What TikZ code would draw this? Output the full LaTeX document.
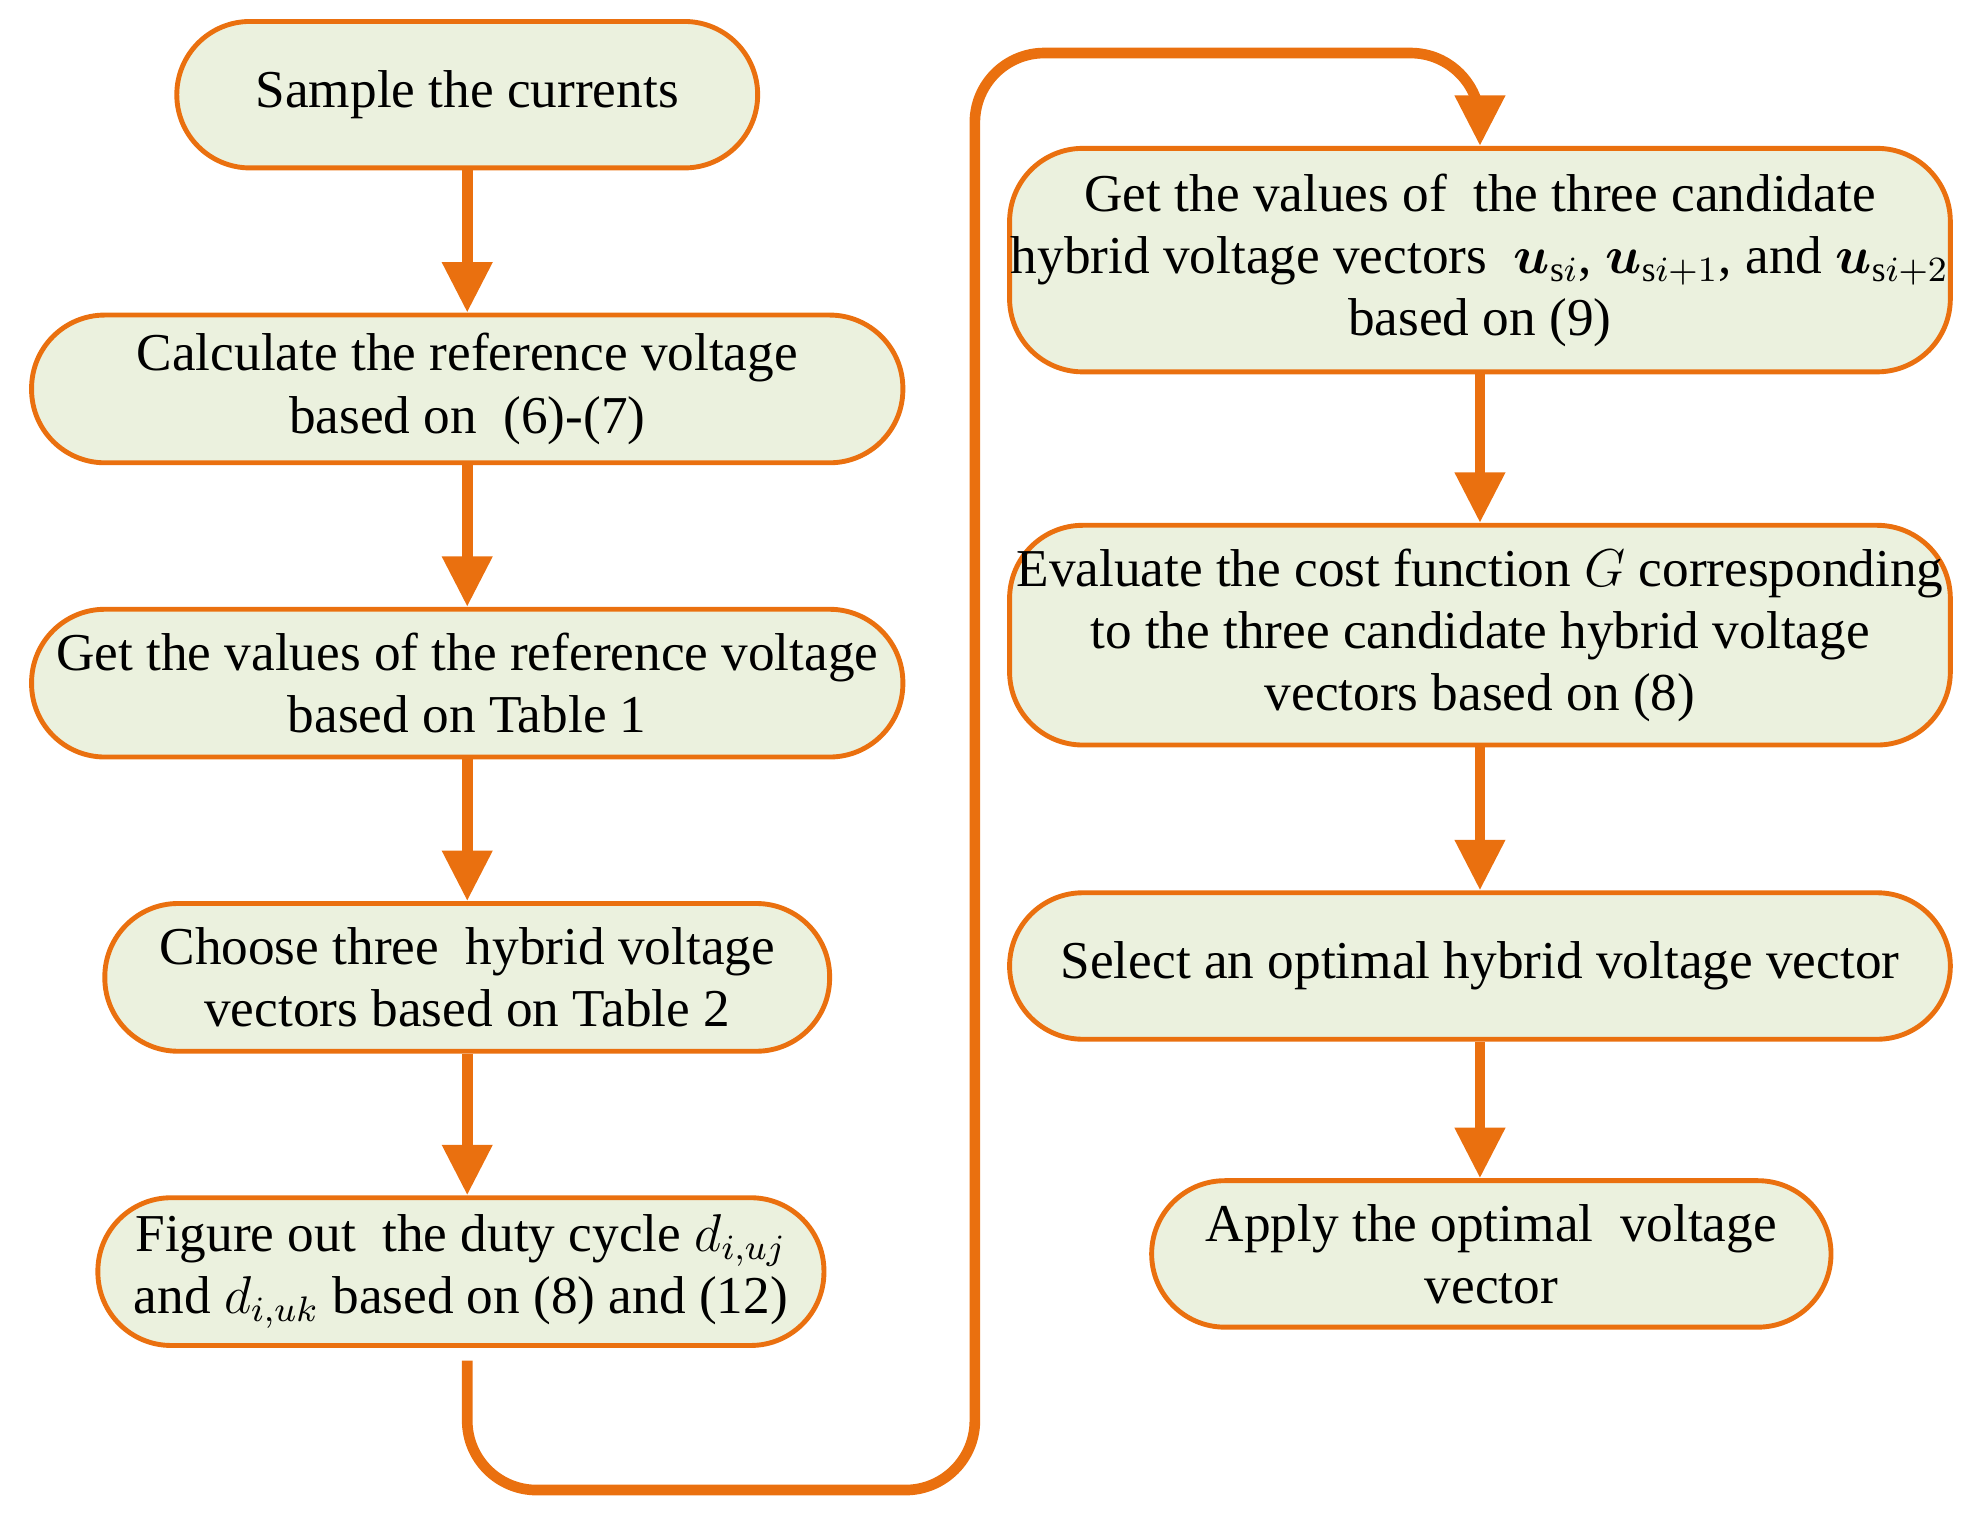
\documentclass[tikz,border=0pt]{standalone}
\usepackage{amsmath, amssymb}
\usepackage{fontspec}
\setmainfont{Liberation Serif}
\usepackage{tikz}
\usetikzlibrary{arrows.meta}
\definecolor{cOrange}{HTML}{EA700F}
\definecolor{cFill}{HTML}{EBF1DE}
\begin{document}
\begin{tikzpicture}[
  stage/.style={draw=cOrange, line width=1.1pt, fill=cFill, rounded corners=0.58cm,
    align=center, inner sep=0pt, font=\fontsize{12}{14}\selectfont},
  flow/.style={draw=cOrange, line width=2.4pt, -{Triangle[width=0.38cm,length=0.4cm]}}
]
\useasboundingbox (0,0) rectangle (15.68,-12.13);
\node[stage, minimum width=4.6cm, minimum height=1.16cm] (sample) at (3.70,-0.75) {Sample the currents};
\node[stage, minimum width=6.9cm, minimum height=1.17cm] (calc) at (3.70,-3.08) {Calculate the reference voltage\\based on \ (6)-(7)};
\node[stage, minimum width=6.9cm, minimum height=1.17cm] (refval) at (3.70,-5.41) {Get the values of the reference voltage\\based on Table 1};
\node[stage, minimum width=5.74cm, minimum height=1.17cm] (choose) at (3.70,-7.74) {Choose three \ hybrid voltage\\vectors based on Table 2};
\node[stage, minimum width=5.75cm, minimum height=1.17cm] (duty) at (3.65,-10.07) {Figure out \ the duty cycle $d_{i,uj}$\\and $d_{i,uk}$ based on (8) and (12)};
\node[stage, minimum width=7.45cm, minimum height=1.77cm] (cand) at (11.72,-2.06) {Get the values of \ the three candidate\\hybrid voltage vectors \ $\boldsymbol{u}_{\mathrm{s}i}$, $\boldsymbol{u}_{\mathrm{s}i+1}$, and $\boldsymbol{u}_{\mathrm{s}i+2}$\\based on (9)};
\node[stage, minimum width=7.45cm, minimum height=1.74cm] (cost) at (11.72,-5.03) {Evaluate the cost function $G$ corresponding\\to the three candidate hybrid voltage\\vectors based on (8)};
\node[stage, minimum width=7.45cm, minimum height=1.16cm] (select) at (11.72,-7.65) {Select an optimal hybrid voltage vector};
\node[stage, minimum width=5.38cm, minimum height=1.16cm] (apply) at (11.81,-9.93) {Apply the optimal \ voltage\\vector};
\coordinate (loopA) at (3.70,-11.80);
\coordinate (loopB) at (7.72,-11.80);
\coordinate (loopC) at (7.72,-0.42);
\coordinate (loopD) at (11.72,-0.42);
\draw[flow] (sample) -- (calc);
\draw[flow] (calc) -- (refval);
\draw[flow] (refval) -- (choose);
\draw[flow] (choose.south) -- (duty.north -| choose.south);
\draw[flow, rounded corners=0.55cm] ([yshift=-0.1cm]duty.south -| loopA) -- (loopA) -- (loopB) -- (loopC) -- (loopD) -- (cand.north);
\draw[flow] (cand) -- (cost);
\draw[flow] (cost) -- (select);
\draw[flow] (select) -- (apply.north -| select.south);
\end{tikzpicture}
\end{document}
